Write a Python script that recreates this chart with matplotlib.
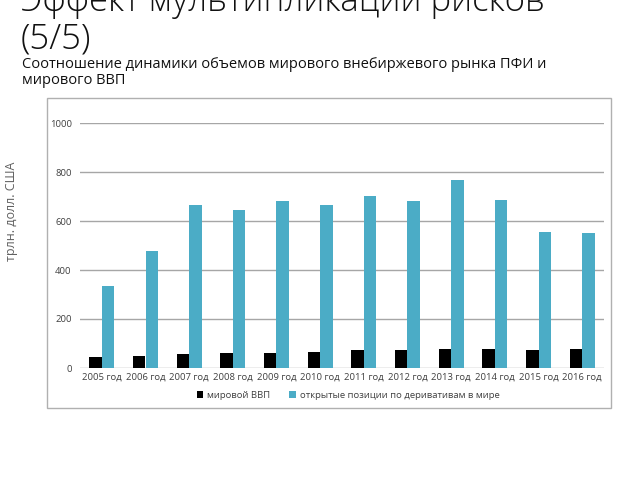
import numpy as np
import matplotlib.pyplot as plt
from matplotlib.patches import Rectangle

plt.rcParams['font.family'] = ['Open Sans', 'DejaVu Sans']

years = ['2005 год', '2006 год', '2007 год', '2008 год', '2009 год', '2010 год',
         '2011 год', '2012 год', '2013 год', '2014 год', '2015 год', '2016 год']
gdp = [45, 50, 57, 63, 60, 66, 73, 74, 77, 78, 74, 76]
derivatives = [335, 477, 665, 645, 682, 665, 702, 682, 767, 686, 555, 551]
yticks = [0, 200, 400, 600, 800, 1000]

fig = plt.figure(figsize=(6.4, 4.8), dpi=100)

# заголовок (верх обрезан, как на слайде)
fig.text(21/640, 1 - 11/480, 'Эффект мультипликации рисков', fontsize=25,
         fontweight='light', va='baseline', ha='left', color='#111111')
fig.text(21/640, 1 - 48/480, '(5/5)', fontsize=25,
         fontweight='light', va='baseline', ha='left', color='#111111')
fig.text(22/640, 1 - 68/480, 'Соотношение динамики объемов мирового внебиржевого рынка ПФИ и',
         fontsize=10.5, va='baseline', ha='left', color='#111111')
fig.text(22/640, 1 - 84/480, 'мирового ВВП',
         fontsize=10.5, va='baseline', ha='left', color='#111111')

# рамка диаграммы
fig.patches.append(Rectangle((47/640, 1 - 408/480), 564/640, 310/480,
                             transform=fig.transFigure, fill=False,
                             edgecolor='#b0b0b0', linewidth=1))

ax = fig.add_axes([80/640, 1 - 368/480, 524/640, 245/480])
x = np.arange(len(years))
w = 0.29
ax.bar(x - w/2, gdp, w, color='black', label='мировой ВВП', zorder=3)
ax.bar(x + w/2, derivatives, w, color='#4BACC6',
       label='открытые позиции по деривативам в мире', zorder=3)

ax.set_xlim(-0.5, len(years) - 0.5)
ax.set_ylim(0, 1000)
ax.set_yticks(yticks)
ax.set_xticks(x)
ax.set_xticklabels(years)
ax.tick_params(axis='both', length=0, labelsize=6.8, colors='#404040')
ax.tick_params(axis='y', pad=6)
ax.grid(axis='y', color='#a6a6a6', linewidth=1, zorder=0)
for s in ax.spines.values():
    s.set_visible(False)

fig.text(12/640, 1 - 211/480, 'трлн. долл. США', rotation=90, fontsize=9,
         va='center', ha='center', color='#606060')

fig.legend(loc='center', bbox_to_anchor=(348/640, 1 - 395/480), ncol=2,
           frameon=False, fontsize=6.8, handlelength=0.7, handleheight=0.7,
           columnspacing=2.0, handletextpad=0.4, labelcolor='#404040')

fig.savefig('out.png', dpi=100)
